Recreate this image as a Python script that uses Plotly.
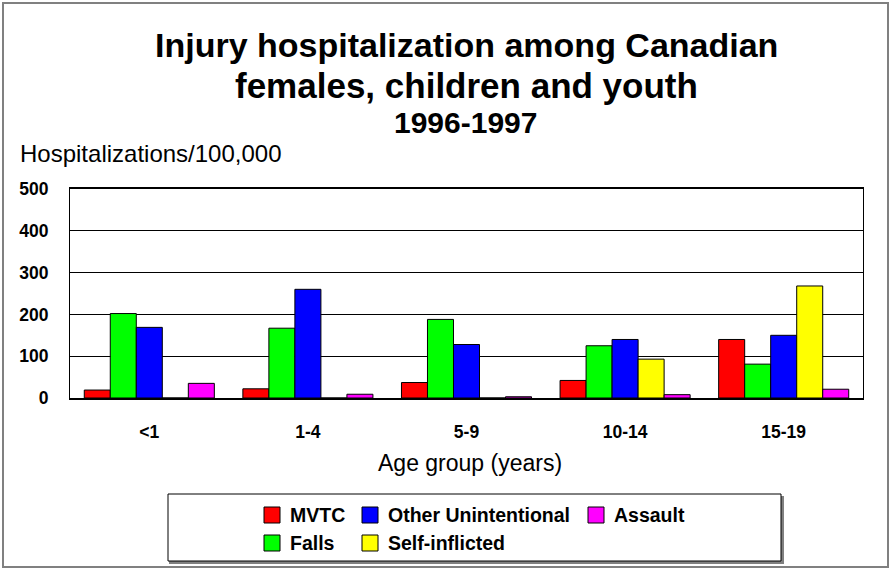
import plotly.graph_objects as go

# Injury hospitalization rates per 100,000, Canadian females, 1996-1997
age_groups = ["<1", "1-4", "5-9", "10-14", "15-19"]
series_names = ["MVTC", "Falls", "Other Unintentional", "Self-inflicted", "Assault"]
mvtc = [19, 22, 37, 42, 140]
falls = [202, 167, 188, 125, 81]
other_unintentional = [169, 260, 128, 140, 150]
self_inflicted = [0, 0, 0, 93, 268]
assault = [35, 9, 3, 8, 21]
y_ticks = [0, 100, 200, 300, 400, 500]

series_values = [mvtc, falls, other_unintentional, self_inflicted, assault]
colors = ["#FF0000", "#00FF00", "#0000FF", "#FFFF00", "#FF00FF"]

W, H = 891, 569
L, R, T, B = 70, 28, 189, 171
PW, PH = W - L - R, H - T - B

def px(x):
    return (x - L) / PW

def py(y):
    return (H - B - y) / PH

FONT = "Arial, Liberation Sans, sans-serif"

fig = go.Figure()
for name, vals, col in zip(series_names, series_values, colors):
    fig.add_trace(go.Bar(
        x=age_groups, y=vals, name=name,
        marker=dict(color=col, line=dict(color="black", width=1)),
        showlegend=False,
    ))

shapes = []
annotations = []

# outer frame around the whole chart
shapes.append(dict(type="rect", xref="paper", yref="paper",
                   x0=px(3), x1=px(888), y0=py(567), y1=py(3),
                   line=dict(color="#808080", width=2), layer="below"))

# title block and axis captions
annotations += [
    dict(text="<b>Injury hospitalization among Canadian</b>", x=px(466), y=py(45),
         font=dict(size=34)),
    dict(text="<b>females, children and youth</b>", x=px(466), y=py(85),
         font=dict(size=35)),
    dict(text="<b>1996-1997</b>", x=px(465), y=py(123),
         font=dict(size=30)),
    dict(text="Hospitalizations/100,000", x=px(18), y=py(154), xanchor="left",
         font=dict(size=24)),
    dict(text="Age group (years)", x=px(470), y=py(463),
         font=dict(size=23)),
]
for a in annotations:
    a.update(xref="paper", yref="paper", showarrow=False, yanchor="middle")
    a.setdefault("xanchor", "center")
    a["font"].update(family=FONT, color="black")

# legend box with a soft shadow
shapes.append(dict(type="rect", xref="paper", yref="paper",
                   x0=px(170), x1=px(783), y0=py(563), y1=py(497),
                   line=dict(color="#808080", width=2), fillcolor="#808080"))
shapes.append(dict(type="rect", xref="paper", yref="paper",
                   x0=px(168), x1=px(781), y0=py(561), y1=py(494),
                   line=dict(color="black", width=1), fillcolor="white"))

# legend entries: (series index, square left x, row centre y)
SQ = 16
legend_layout = [(0, 264, 515), (2, 362, 515), (4, 588, 515),
                 (1, 264, 543), (3, 362, 543)]
for idx, sx, cy in legend_layout:
    shapes.append(dict(type="rect", xref="paper", yref="paper",
                       x0=px(sx), x1=px(sx + SQ), y0=py(cy + SQ / 2), y1=py(cy - SQ / 2),
                       line=dict(color="black", width=1), fillcolor=colors[idx]))
    annotations.append(dict(text="<b>" + series_names[idx] + "</b>", xref="paper", yref="paper",
                            x=px(sx + SQ + 8), y=py(cy), xanchor="left", yanchor="middle",
                            showarrow=False,
                            font=dict(size=19.5, family=FONT, color="black")))

tick_font = dict(size=17.5, family=FONT, color="black", weight="bold")

fig.update_layout(
    width=W, height=H,
    margin=dict(l=L, r=R, t=T, b=B),
    paper_bgcolor="white", plot_bgcolor="white",
    barmode="group", bargap=0.18, bargroupgap=0,
    shapes=shapes, annotations=annotations,
    font=dict(family=FONT, color="black"),
    xaxis=dict(showline=True, linecolor="black", linewidth=2, mirror=True,
               ticks="", tickfont=tick_font, ticklabelstandoff=17),
    yaxis=dict(range=[0, 500], tickvals=y_ticks, showline=True, linecolor="black",
               linewidth=1, mirror=True, showgrid=True, gridcolor="black", gridwidth=1,
               zeroline=False, ticks="", ticklabelstandoff=17,
               tickfont=tick_font),
)

fig.write_html("out.html")
